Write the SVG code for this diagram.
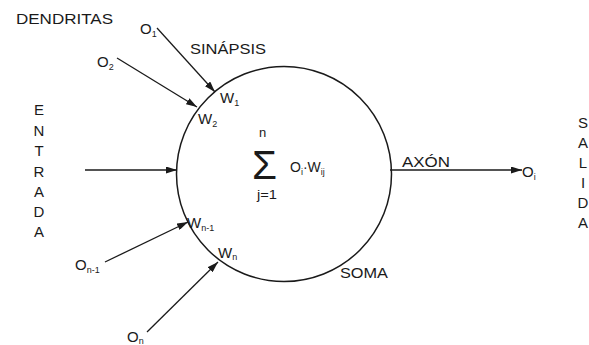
<svg xmlns="http://www.w3.org/2000/svg" width="589" height="345" viewBox="0 0 589 345">
<style>
text{font-family:"Liberation Sans",Arial,sans-serif;fill:#1a1a1a}
.lbl{font-size:15px}
.sub{font-size:9px}
.let{font-size:15px;text-anchor:middle}
.con{stroke:#1a1a1a;stroke-width:1.3;fill:none}
</style>
<defs>
<marker id="ah" markerUnits="userSpaceOnUse" markerWidth="11" markerHeight="7" refX="11" refY="3.5" orient="auto">
<path d="M0,0 L11,3.5 L0,7 z" fill="#1a1a1a"/>
</marker>
</defs>
<rect width="589" height="345" fill="#fff"/>
<g id="soma">
<circle cx="284" cy="174" r="107.5" fill="none" stroke="#1a1a1a" stroke-width="1.5"/>
<text class="lbl" x="340" y="278" textLength="48" lengthAdjust="spacingAndGlyphs">SOMA</text>
<text x="252" y="179" font-size="40" textLength="25" lengthAdjust="spacingAndGlyphs">Σ</text>
<text x="259" y="137" font-size="13">n</text>
<text x="257" y="199" font-size="13" textLength="20" lengthAdjust="spacingAndGlyphs">j=1</text>
<text x="290" y="172" font-size="14">O<tspan class="sub" dy="3">i</tspan><tspan dy="-3">·W</tspan><tspan class="sub" dy="3">ij</tspan></text>
</g>
<g id="labels">
<text class="lbl" x="16" y="24" textLength="97" lengthAdjust="spacingAndGlyphs">DENDRITAS</text>
<text class="lbl" x="190" y="54" textLength="76" lengthAdjust="spacingAndGlyphs">SINÁPSIS</text>
<text class="lbl" x="402" y="167" textLength="48" lengthAdjust="spacingAndGlyphs">AXÓN</text>
</g>
<g id="entrada">
<text class="let" x="39" y="115">E</text>
<text class="let" x="39" y="136">N</text>
<text class="let" x="39" y="156">T</text>
<text class="let" x="39" y="177">R</text>
<text class="let" x="39" y="197">A</text>
<text class="let" x="39" y="217">D</text>
<text class="let" x="39" y="237">A</text>
</g>
<g id="salida">
<text class="let" x="583" y="128">S</text>
<text class="let" x="583" y="148">A</text>
<text class="let" x="583" y="168">L</text>
<text class="let" x="583" y="188">I</text>
<text class="let" x="583" y="208">D</text>
<text class="let" x="583" y="228">A</text>
</g>
<g id="inputs">
<text class="lbl" x="140" y="34">O<tspan class="sub" dy="3">1</tspan></text>
<text class="lbl" x="97" y="67">O<tspan class="sub" dy="3">2</tspan></text>
<text class="lbl" x="75" y="270">O<tspan class="sub" dy="3">n-1</tspan></text>
<text class="lbl" x="127" y="342">O<tspan class="sub" dy="2">n</tspan></text>
<text class="lbl" x="522" y="177">O<tspan class="sub" dy="3">i</tspan></text>
</g>
<g id="weights">
<text class="lbl" x="220" y="103">W<tspan class="sub" dy="3">1</tspan></text>
<text class="lbl" x="198" y="124">W<tspan class="sub" dy="3">2</tspan></text>
<text class="lbl" x="187" y="228">W<tspan class="sub" dy="3">n-1</tspan></text>
<text class="lbl" x="218" y="258">W<tspan class="sub" dy="2">n</tspan></text>
</g>
<g id="connectors">
<line class="con" x1="157" y1="28" x2="215" y2="92" marker-end="url(#ah)"/>
<line class="con" x1="117" y1="58" x2="197" y2="107" marker-end="url(#ah)"/>
<line class="con" x1="85" y1="170" x2="177" y2="170" marker-end="url(#ah)"/>
<line class="con" x1="105" y1="262" x2="188" y2="222" marker-end="url(#ah)"/>
<line class="con" x1="147" y1="332" x2="218" y2="262" marker-end="url(#ah)"/>
<line class="con" x1="390" y1="170" x2="522" y2="170" marker-end="url(#ah)"/>
</g>
</svg>
